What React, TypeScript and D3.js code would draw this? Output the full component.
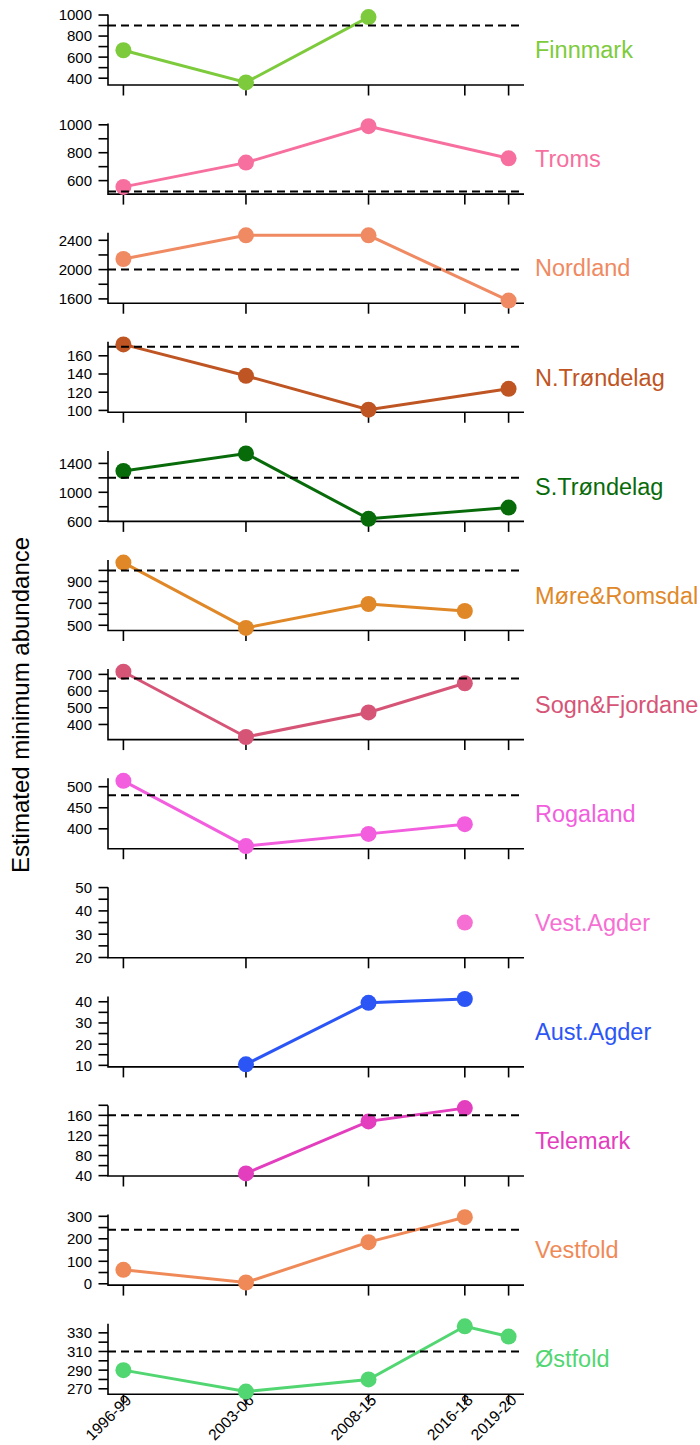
import React from "react";
import * as d3 from "d3";

const WIDTH = 700;
const HEIGHT = 1445;

// layout of the stacked panels
const LEFT = 108;
const RIGHT = 524;
const FIRST_BOTTOM = 85;
const PANEL_STEP = 109.1;
const PANEL_H = 70.5;

const FONT = "'Liberation Sans', Arial, sans-serif";

// periods on the x axis, placed at the middle year of each period
const PERIODS = ["1996-99", "2003-06", "2008-15", "2016-18", "2019-20"];
const PERIOD_MID = [1997.5, 2004.5, 2011.5, 2017, 2019.5];

const REGIONS = [
  "Finnmark",
  "Troms",
  "Nordland",
  "N.Trøndelag",
  "S.Trøndelag",
  "Møre&Romsdal",
  "Sogn&Fjordane",
  "Rogaland",
  "Vest.Agder",
  "Aust.Agder",
  "Telemark",
  "Vestfold",
  "Østfold",
];

const COLORS = [
  "#7DCB3C",
  "#F76F9E",
  "#EF8A62",
  "#BF5523",
  "#086B0A",
  "#E08828",
  "#D65577",
  "#F25EDE",
  "#F66FD3",
  "#2B55F5",
  "#E23EBE",
  "#EF8A58",
  "#52D672",
];

// estimated minimum abundance per period (null = no survey)
const finnmark = [665, 360, 980, null, null];
const troms = [555, 729, 990, null, 760];
const nordland = [2145, 2468, 2468, null, 1577];
const nTrondelag = [172.5, 138, 100.8, null, 123.7];
const sTrondelag = [1295, 1537, 633, null, 788];
const moreRomsdal = [1071, 476, 694, 630, null];
const sognFjordane = [716, 325, 472, 647, null];
const rogaland = [514, 359, 388, 411, null];
const vestAgder = [null, null, null, 35, null];
const austAgder = [null, 10.5, 39.5, 41.3, null];
const telemark = [null, 44.5, 148, 174.4, null];
const vestfold = [62, 5.7, 185, 296, null];
const ostfold = [290, 267, 280, 337, 326];

const VALUES = [
  finnmark, troms, nordland, nTrondelag, sTrondelag, moreRomsdal,
  sognFjordane, rogaland, vestAgder, austAgder, telemark, vestfold, ostfold,
];

// dashed reference level per region
const THRESHOLDS = [900, 522, 2000, 170, 1200, 1000, 675, 480, null, null, 160, 240, 310];

// y tick marks and the ones that carry a label
const Y_TICKS = [
  [400, 500, 600, 700, 800, 900, 1000],
  [600, 700, 800, 900, 1000],
  [1600, 1800, 2000, 2200, 2400],
  [100, 120, 140, 160],
  [600, 800, 1000, 1200, 1400],
  [500, 600, 700, 800, 900, 1000],
  [400, 500, 600, 700],
  [400, 450, 500],
  [20, 25, 30, 35, 40, 45, 50],
  [10, 15, 20, 25, 30, 35, 40],
  [40, 60, 80, 100, 120, 140, 160, 180],
  [0, 50, 100, 150, 200, 250, 300],
  [270, 280, 290, 300, 310, 320, 330],
];
const Y_LABELS = [
  [400, 600, 800, 1000],
  [600, 800, 1000],
  [1600, 2000, 2400],
  [100, 120, 140, 160],
  [600, 1000, 1400],
  [500, 700, 900],
  [400, 500, 600, 700],
  [400, 450, 500],
  [20, 30, 40, 50],
  [10, 20, 30, 40],
  [40, 80, 120, 160],
  [0, 100, 200, 300],
  [270, 290, 310, 330],
];

// R-style axis limits: data range widened by 4% each side
const rLimits = (vals: number[]): [number, number] => {
  let lo = d3.min(vals) as number;
  let hi = d3.max(vals) as number;
  if (lo === hi) {
    lo = lo - 0.4 * Math.abs(lo);
    hi = hi + 0.4 * Math.abs(hi);
  }
  const pad = (hi - lo) * 0.04;
  return [lo - pad, hi + pad];
};

const xScale = d3.scaleLinear().domain(rLimits(PERIOD_MID)).range([LEFT, RIGHT]);

const Panel = ({ index }: { index: number }) => {
  const values = VALUES[index];
  const threshold = THRESHOLDS[index];
  const color = COLORS[index];
  const bottom = FIRST_BOTTOM + PANEL_STEP * index;
  const top = bottom - PANEL_H;

  const pts = values
    .map((v, i) => ({ x: PERIOD_MID[i], y: v }))
    .filter((d) => d.y !== null) as { x: number; y: number }[];

  const yVals = pts.map((d) => d.y);
  if (threshold !== null) yVals.push(threshold);
  const yScale = d3.scaleLinear().domain(rLimits(yVals)).range([bottom, top]);

  const line = d3
    .line<{ x: number; y: number }>()
    .x((d) => xScale(d.x))
    .y((d) => yScale(d.y));

  const isLast = index === REGIONS.length - 1;

  return (
    <g>
      {/* L shaped box */}
      <path
        d={`M${LEFT},${top}V${bottom}H${RIGHT}`}
        fill="none"
        stroke="#000"
        strokeWidth={1.6}
      />
      {/* y ticks */}
      {Y_TICKS[index].map((t) => (
        <line
          key={"yt" + t}
          x1={LEFT - 9.5}
          x2={LEFT}
          y1={yScale(t)}
          y2={yScale(t)}
          stroke="#000"
          strokeWidth={1.6}
        />
      ))}
      {Y_LABELS[index].map((t) => (
        <text
          key={"yl" + t}
          x={LEFT - 16}
          y={yScale(t)}
          dy="0.36em"
          textAnchor="end"
          fontSize={15}
          fontFamily={FONT}
          fill="#000"
        >
          {t}
        </text>
      ))}
      {/* x ticks */}
      {PERIOD_MID.map((m, i) => (
        <line
          key={"xt" + i}
          x1={xScale(m)}
          x2={xScale(m)}
          y1={bottom}
          y2={bottom + 10.5}
          stroke="#000"
          strokeWidth={1.6}
        />
      ))}
      {isLast &&
        PERIODS.map((p, i) => {
          const x = xScale(PERIOD_MID[i]) + 4;
          const y = bottom + 2;
          return (
            <text
              key={"xl" + p}
              transform={`translate(${x},${y}) rotate(-45)`}
              textAnchor="end"
              dy="0.45em"
              fontSize={15.5}
              fontFamily={FONT}
              fill="#000"
            >
              {p}
            </text>
          );
        })}
      {/* series */}
      {pts.length > 1 && (
        <path d={line(pts) || ""} fill="none" stroke={color} strokeWidth={3} />
      )}
      {pts.map((d, i) => (
        <circle key={"pt" + i} cx={xScale(d.x)} cy={yScale(d.y)} r={8} fill={color} />
      ))}
      {threshold !== null && (
        <line
          x1={LEFT}
          x2={RIGHT}
          y1={yScale(threshold)}
          y2={yScale(threshold)}
          stroke="#000"
          strokeWidth={2}
          strokeDasharray="8,5"
        />
      )}
      <text
        x={535}
        y={(top + bottom) / 2}
        dy="0.36em"
        fontSize={23.5}
        fontFamily={FONT}
        fill={color}
      >
        {REGIONS[index]}
      </text>
    </g>
  );
};

const App = () => {
  return (
    <svg
      width={WIDTH}
      height={HEIGHT}
      style={{ position: "absolute", left: 0, top: 0, background: "#fff" }}
    >
      <text
        transform={`translate(29,705) rotate(-90)`}
        textAnchor="middle"
        fontSize={24}
        fontFamily={FONT}
        fill="#000"
      >
        Estimated minimum abundance
      </text>
      {REGIONS.map((r, i) => (
        <Panel key={r} index={i} />
      ))}
    </svg>
  );
};

export default App;
